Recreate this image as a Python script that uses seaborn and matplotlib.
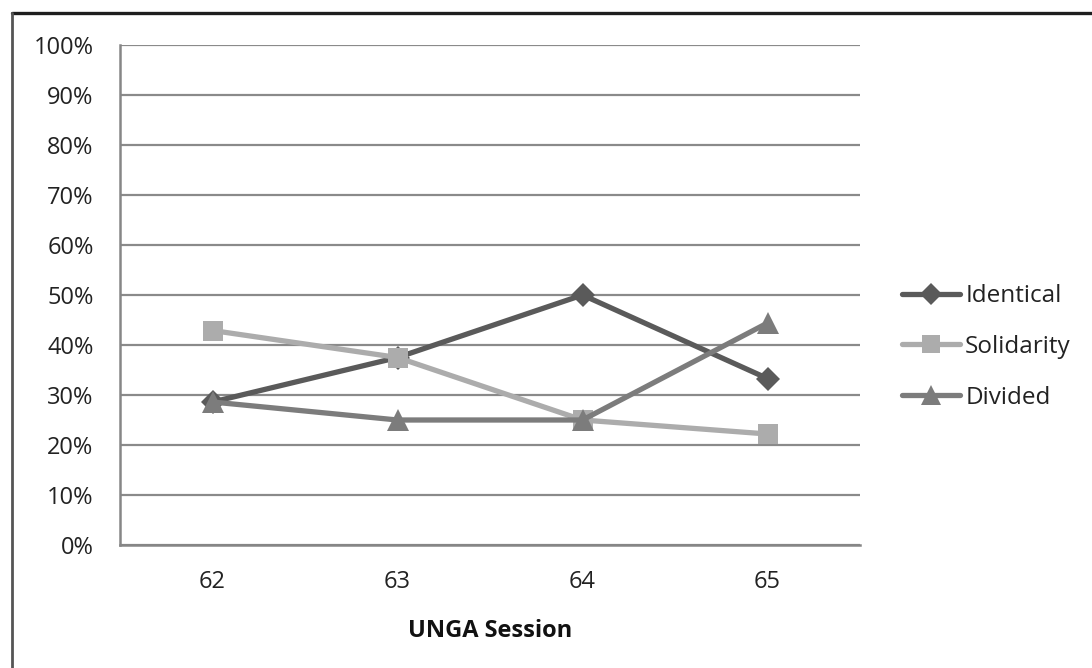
import matplotlib
matplotlib.use("Agg")
import matplotlib.pyplot as plt
from matplotlib.lines import Line2D
from matplotlib.ticker import PercentFormatter
import seaborn as sns
import pandas as pd

sessions = ["62", "63", "64", "65"]
identical = [28.6, 37.5, 50.0, 33.3]
solidarity = [42.9, 37.5, 25.0, 22.2]
divided = [28.6, 25.0, 25.0, 44.4]
series_names = ["Identical", "Solidarity", "Divided"]

colors = {"Identical": "#5a5a5a", "Solidarity": "#acacac", "Divided": "#7c7c7c"}
markers = {"Identical": "D", "Solidarity": "s", "Divided": "^"}
marker_sizes = {"Identical": 12.5, "Solidarity": 14.5, "Divided": 16}

rows = []
for name, vals in zip(series_names, [identical, solidarity, divided]):
    for i, (s, v) in enumerate(zip(sessions, vals)):
        rows.append({"pos": i, "session": s, "share": v, "series": name})
df = pd.DataFrame(rows)

sns.set_style("white")
plt.rcParams["font.family"] = ["Open Sans", "DejaVu Sans"]

fig = plt.figure(figsize=(10.92, 6.68), dpi=100)
ax = fig.add_axes([120 / 1092, 1 - 545 / 668, 740 / 1092, 500 / 668])

for name in series_names:
    sub = df[df["series"] == name]
    sns.lineplot(data=sub, x="pos", y="share", ax=ax, color=colors[name],
                 marker=markers[name], markersize=marker_sizes[name],
                 markeredgewidth=0, linewidth=3.8, label=name, zorder=3,
                 legend=False)

ax.set_xlim(-0.5, 3.5)
ax.set_ylim(0, 100)
ax.set_yticks(range(0, 101, 10))
ax.yaxis.set_major_formatter(PercentFormatter(decimals=0))
ax.yaxis.grid(True, color="#8a8a8a", linewidth=1.6, zorder=1)
ax.xaxis.grid(False)

ax.set_xticks(range(len(sessions)))
ax.set_xticklabels(sessions)
ax.set_xticks([i - 0.5 for i in range(len(sessions) + 1)], minor=True)
ax.tick_params(axis="x", which="major", length=0, pad=18, labelsize=17, labelcolor="#222222")
ax.tick_params(axis="x", which="minor", length=6, width=1.6, color="#868686", direction="out")
ax.tick_params(axis="y", which="major", length=7, width=1.6, color="#868686", direction="out",
               pad=12, labelsize=17, labelcolor="#222222")

for side in ["top", "right"]:
    ax.spines[side].set_visible(False)
for side in ["left", "bottom"]:
    ax.spines[side].set_color("#868686")
    ax.spines[side].set_linewidth(1.8)
ax.spines["left"].set_zorder(4)

ax.set_xlabel("UNGA Session", fontsize=17, fontweight="bold", color="#111111", labelpad=18)
ax.set_ylabel("")

handles = [Line2D([0], [0], color=colors[n], linewidth=3.8, marker=markers[n],
                  markersize=marker_sizes[n] - 1, markeredgewidth=0) for n in series_names]
fig.legend(handles, series_names, loc="center left",
           bbox_to_anchor=(902 / 1092, 1 - 347 / 668), frameon=False,
           fontsize=17.5, handlelength=2.4, handletextpad=0.2, labelspacing=1.1,
           labelcolor="#222222", borderaxespad=0, borderpad=0)

# frame around the chart area
fig.add_artist(Line2D([12 / 1092, 1.0], [1 - 13 / 668, 1 - 13 / 668], color="#1e1e1e",
                      linewidth=2.4, transform=fig.transFigure))
fig.add_artist(Line2D([12 / 1092, 12 / 1092], [0.0, 1 - 13 / 668], color="#555555",
                      linewidth=2.0, transform=fig.transFigure))

fig.savefig("out.png", dpi=100)
